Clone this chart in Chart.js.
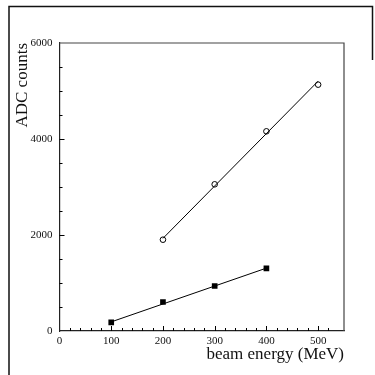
<!DOCTYPE html>
<html>
<head>
<meta charset="utf-8">
<script src="https://cdn.jsdelivr.net/npm/chart.js@4/dist/chart.umd.min.js"></script>
<style>
  html, body { margin: 0; padding: 0; background: #fff; }
  #wrap { width: 375px; height: 375px; }
</style>
</head>
<body>
<div id="wrap"><canvas id="c" width="375" height="375"></canvas></div>
<script>
// ---- data ----
const energyOpen   = [200, 300, 400, 500];
const adcOpen      = [1902, 3056, 4160, 5132];
const fitOpenX     = [200, 500];
const fitOpenY     = [1930, 5205];

const energyFilled = [100, 200, 300, 400];
const adcFilled    = [181, 604, 937, 1306];
const fitFilledX   = [100, 400];
const fitFilledY   = [190, 1310];

const xTickLabels  = [0, 100, 200, 300, 400, 500];
const yTickLabels  = [0, 2000, 4000, 6000];

const xTitle = 'beam energy (MeV)';
const yTitle = 'ADC counts';

const toPts = (xs, ys) => xs.map((x, i) => ({ x: x, y: ys[i] }));

const SERIF = "'Liberation Serif', 'DejaVu Serif', serif";

const framePlugin = {
  id: 'frame',
  beforeDraw(chart) {
    const ctx = chart.ctx;
    ctx.save();
    ctx.fillStyle = '#fff';
    ctx.fillRect(0, 0, chart.width, chart.height);
    ctx.strokeStyle = '#111';
    ctx.lineWidth = 1.5;
    ctx.beginPath();
    ctx.moveTo(9, 375); ctx.lineTo(9, 6.5); ctx.lineTo(372.5, 6.5); ctx.lineTo(372.5, 60);
    ctx.stroke();
    ctx.restore();
  },
  afterDraw(chart) {
    const ctx = chart.ctx;
    const a = chart.chartArea;
    const xs = chart.scales.x, ys = chart.scales.y;
    ctx.save();
    // top and right box edges
    ctx.strokeStyle = '#444';
    ctx.lineWidth = 1.2;
    ctx.beginPath();
    ctx.moveTo(a.left, a.top); ctx.lineTo(a.right, a.top); ctx.lineTo(a.right, a.bottom);
    ctx.stroke();
    // inward ticks at the library's tick positions; longer on labelled values
    ctx.strokeStyle = '#000';
    ctx.lineWidth = 1;
    ctx.beginPath();
    xs.ticks.forEach(t => {
      if (t.value <= 0 || t.value >= 550) return;
      const len = xTickLabels.includes(t.value) ? 5 : 3;
      const px = Math.round(xs.getPixelForValue(t.value)) + 0.5;
      ctx.moveTo(px, a.bottom); ctx.lineTo(px, a.bottom - len);
    });
    ys.ticks.forEach(t => {
      if (t.value <= 0 || t.value >= 6000) return;
      const len = yTickLabels.includes(t.value) ? 5 : 3;
      const py = Math.round(ys.getPixelForValue(t.value)) + 0.5;
      ctx.moveTo(a.left, py); ctx.lineTo(a.left + len, py);
    });
    ctx.stroke();
    ctx.restore();
  }
};

new Chart(document.getElementById('c'), {
  type: 'scatter',
  data: {
    datasets: [
      {
        type: 'line',
        data: toPts(fitOpenX, fitOpenY),
        borderColor: '#000', borderWidth: 1, pointRadius: 0, fill: false, tension: 0
      },
      {
        type: 'line',
        data: toPts(fitFilledX, fitFilledY),
        borderColor: '#000', borderWidth: 1, pointRadius: 0, fill: false, tension: 0
      },
      {
        data: toPts(energyOpen, adcOpen),
        pointStyle: 'circle', pointRadius: 2.8, borderWidth: 1,
        borderColor: '#000', backgroundColor: '#fff', showLine: false
      },
      {
        data: toPts(energyFilled, adcFilled),
        pointStyle: 'rect', pointRadius: 4, borderWidth: 0,
        borderColor: '#000', backgroundColor: '#000', showLine: false
      }
    ]
  },
  options: {
    responsive: false,
    animation: false,
    devicePixelRatio: 1,
    layout: { padding: { left: 0, top: 43, right: 31, bottom: 0 } },
    plugins: { legend: { display: false }, tooltip: { enabled: false } },
    scales: {
      x: {
        type: 'linear', min: 0, max: 550,
        ticks: {
          stepSize: 20, autoSkip: false, maxRotation: 0,
          callback: v => xTickLabels.includes(v) ? String(v) : '',
          font: { family: SERIF, size: 11 }, color: '#111', padding: 4
        },
        grid: { drawOnChartArea: false, drawTicks: false },
        border: { color: '#222', width: 1.2 },
        title: {
          display: true, text: xTitle, align: 'end', color: '#111',
          font: { family: SERIF, size: 17 }, padding: { top: 0, bottom: 10 }
        },
        afterFit: s => { s.height = 44; }
      },
      y: {
        type: 'linear', min: 0, max: 6000,
        ticks: {
          stepSize: 500, autoSkip: false,
          callback: v => yTickLabels.includes(v) ? String(v) : '',
          font: { family: SERIF, size: 11 }, color: '#111', padding: 7
        },
        grid: { drawOnChartArea: false, drawTicks: false },
        border: { color: '#222', width: 1.2 },
        title: {
          display: true, text: yTitle, align: 'end', color: '#111',
          font: { family: SERIF, size: 17 }, padding: { top: 12, bottom: 0 }
        },
        afterFit: s => { s.width = 59.5; }
      }
    }
  },
  plugins: [framePlugin]
});
</script>
</body>
</html>
